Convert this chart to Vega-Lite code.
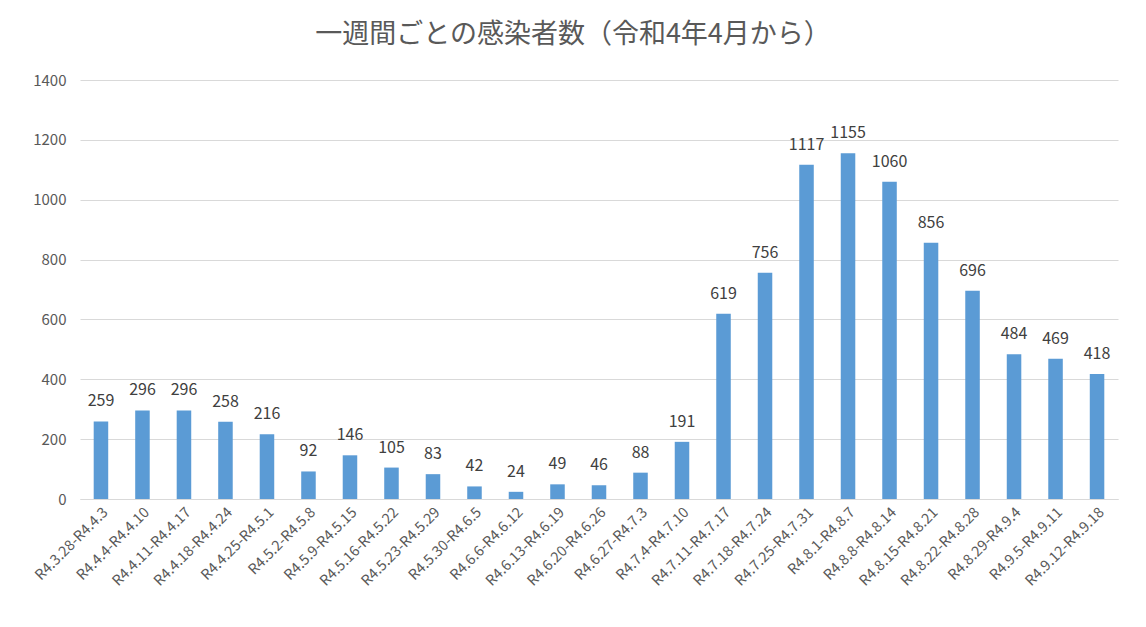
{
  "$schema": "https://vega.github.io/schema/vega-lite/v6.json",
  "autosize": "none",
  "width": 1038,
  "height": 419,
  "padding": {"left": 80, "top": 80, "right": 28, "bottom": 128},
  "background": "white",
  "title": {
    "text": "一週間ごとの感染者数（令和4年4月から）",
    "font": "Noto Sans CJK JP",
    "fontSize": 27,
    "fontWeight": "normal",
    "color": "#595959",
    "anchor": "middle",
    "dx": -26,
    "offset": 24
  },
  "config": {
    "view": {"stroke": null},
    "font": "Noto Sans CJK JP"
  },
  "data": {
    "values": [
      {"week": "R4.3.28-R4.4.3", "count": 259},
      {"week": "R4.4.4-R4.4.10", "count": 296},
      {"week": "R4.4.11-R4.4.17", "count": 296},
      {"week": "R4.4.18-R4.4.24", "count": 258},
      {"week": "R4.4.25-R4.5.1", "count": 216},
      {"week": "R4.5.2-R4.5.8", "count": 92},
      {"week": "R4.5.9-R4.5.15", "count": 146},
      {"week": "R4.5.16-R4.5.22", "count": 105},
      {"week": "R4.5.23-R4.5.29", "count": 83},
      {"week": "R4.5.30-R4.6.5", "count": 42},
      {"week": "R4.6.6-R4.6.12", "count": 24},
      {"week": "R4.6.13-R4.6.19", "count": 49},
      {"week": "R4.6.20-R4.6.26", "count": 46},
      {"week": "R4.6.27-R4.7.3", "count": 88},
      {"week": "R4.7.4-R4.7.10", "count": 191},
      {"week": "R4.7.11-R4.7.17", "count": 619},
      {"week": "R4.7.18-R4.7.24", "count": 756},
      {"week": "R4.7.25-R4.7.31", "count": 1117},
      {"week": "R4.8.1-R4.8.7", "count": 1155},
      {"week": "R4.8.8-R4.8.14", "count": 1060},
      {"week": "R4.8.15-R4.8.21", "count": 856},
      {"week": "R4.8.22-R4.8.28", "count": 696},
      {"week": "R4.8.29-R4.9.4", "count": 484},
      {"week": "R4.9.5-R4.9.11", "count": 469},
      {"week": "R4.9.12-R4.9.18", "count": 418}
    ]
  },
  "encoding": {
    "x": {
      "field": "week",
      "type": "nominal",
      "sort": null,
      "scale": {"paddingInner": 0.65, "paddingOuter": 0.33},
      "axis": {
        "title": null,
        "labelAngle": -45,
        "labelAlign": "right",
        "labelBaseline": "top",
        "labelFontSize": 14.5,
        "labelColor": "#595959",
        "labelPadding": 6,
        "ticks": false,
        "domainColor": "#d9d9d9",
        "domainWidth": 1
      }
    },
    "y": {
      "field": "count",
      "type": "quantitative",
      "scale": {"domain": [0, 1400]},
      "axis": {
        "title": null,
        "format": "d",
        "values": [0, 200, 400, 600, 800, 1000, 1200, 1400],
        "labelFontSize": 15,
        "labelColor": "#595959",
        "labelPadding": 14,
        "ticks": false,
        "domain": false,
        "gridColor": "#d9d9d9",
        "gridWidth": 1
      }
    }
  },
  "layer": [
    {"mark": {"type": "bar", "color": "#5b9bd5"}},
    {
      "mark": {"type": "text", "dy": -20, "fontSize": 16, "color": "#404040"},
      "encoding": {"text": {"field": "count", "type": "quantitative"}}
    }
  ]
}
